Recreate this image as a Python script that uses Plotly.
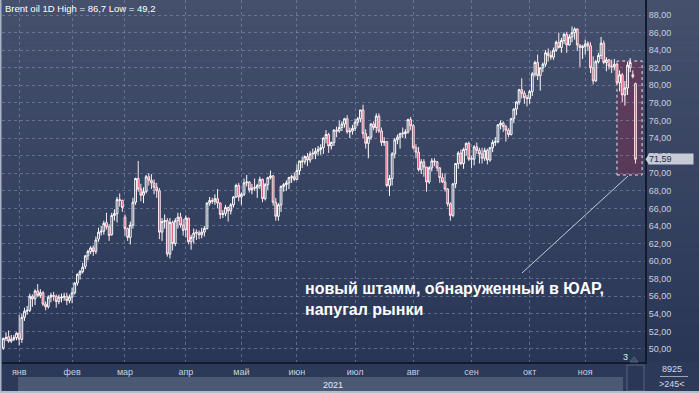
import plotly.graph_objects as go
import pandas as pd

# ---------------- data ----------------
holidays = ["2020-12-25", "2021-01-01", "2021-04-02"]
dates = [d.strftime("%Y-%m-%d") for d in pd.bdate_range("2020-12-23", "2021-11-26")
         if d.strftime("%Y-%m-%d") not in holidays]

month_labels = ["янв", "фев", "мар", "апр", "май", "июн", "июл", "авг", "сен", "окт", "ноя"]

open_ = [
    50.1, 51.2, 51.4, 50.9, 51.1, 51.3,
    51.8, 51.1, 53.6, 54.3, 54.4, 56.0, 55.7, 56.6, 56.1, 56.4, 55.1, 54.8, 55.9, 56.1, 56.0, 55.4, 55.8, 55.9, 56.0, 55.5,
    55.9, 56.4, 57.5, 58.5, 58.8, 59.4, 60.6, 61.1, 61.5, 61.1, 62.5, 63.3, 63.4, 64.4, 63.9, 63.0, 65.2, 65.4, 67.0, 66.9,
    65.0, 63.7, 62.7, 64.1, 66.7, 69.4, 68.2, 67.5, 67.9, 69.6, 69.2, 68.9, 68.4, 68.0, 63.3, 64.5, 64.6, 60.8, 64.4, 62.0, 64.6, 65.0, 64.1,
    63.6, 64.9, 62.2, 62.7, 63.3, 63.2, 63.0, 63.3, 63.7, 66.6, 66.9, 66.8, 67.1, 66.6, 65.3, 65.4, 66.1, 65.7, 66.4, 67.3, 68.6,
    67.3, 67.6, 68.9, 69.0, 68.1, 68.4, 68.3, 68.6, 69.3, 67.1, 68.7, 69.5, 69.7, 66.7, 65.1, 66.4, 68.5, 68.7, 68.9, 69.5, 69.6,
    69.3, 70.3, 71.4, 71.3, 71.9, 71.5, 72.3, 72.2, 72.5, 72.7, 72.9, 74.0, 74.4, 73.1, 73.5, 74.9, 74.8, 75.2, 75.6, 76.2, 74.7, 74.8,
    75.1, 75.8, 76.2, 77.2, 74.5, 73.4, 74.1, 75.6, 75.2, 76.5, 74.8, 73.5, 73.6, 68.6, 69.4, 72.2, 73.8, 74.1, 74.6, 74.5, 74.7, 76.1,
    75.4, 72.9, 72.4, 70.4, 71.3, 70.7, 69.0, 70.6, 71.4, 71.3, 70.6, 69.5, 69.0, 68.2, 66.5, 65.2, 68.8, 71.1, 72.3, 71.1, 72.7, 73.4,
    71.7, 71.6, 73.0, 72.6, 72.2, 71.7, 72.6, 71.5, 72.9, 73.5, 73.6, 75.5, 75.7, 75.3, 74.9, 74.4, 76.2, 77.3, 78.1, 79.5, 79.1, 78.6,
    78.5, 79.3, 81.3, 82.6, 81.1, 82.0, 82.4, 83.7, 83.4, 83.2, 84.0, 84.9, 84.3, 85.1, 85.8, 84.6, 85.5, 86.0, 86.4, 84.6, 84.3,
    84.4, 84.8, 84.5, 82.0, 80.5, 82.7, 83.4, 84.8, 82.6, 82.9, 82.2, 82.1, 82.4, 80.3, 81.2, 78.9, 79.7, 82.0, 81.2, 80.2,
]
high = [
    51.3, 51.9, 52.1, 51.6, 51.6, 51.9,
    53.9, 54.0, 54.7, 54.9, 56.3, 56.2, 56.8, 57.4, 56.8, 56.6, 55.4, 56.1, 56.4, 56.5, 56.2, 56.2, 56.3, 56.4, 56.4, 56.2,
    57.0, 57.6, 58.6, 59.0, 59.8, 60.7, 61.3, 61.7, 61.8, 62.8, 63.8, 64.0, 64.6, 65.5, 64.2, 65.5, 65.9, 67.3, 67.7, 67.0,
    65.3, 63.8, 64.5, 67.2, 69.5, 71.4, 68.8, 68.4, 69.8, 70.0, 69.9, 69.3, 68.9, 68.3, 64.9, 65.3, 64.9, 64.9, 64.6, 64.9, 65.5, 65.5, 64.8,
    65.2, 64.9, 63.0, 63.7, 63.6, 63.5, 63.8, 64.0, 66.7, 67.3, 67.2, 67.6, 68.2, 66.7, 65.8, 66.4, 66.2, 66.6, 67.4, 68.8, 68.9,
    67.8, 69.4, 69.8, 69.1, 68.8, 69.4, 68.8, 69.6, 69.4, 68.9, 69.6, 70.3, 69.8, 67.2, 66.6, 68.6, 68.9, 69.2, 69.6, 69.8, 70.1,
    71.0, 71.4, 71.9, 72.0, 72.3, 72.5, 72.8, 72.9, 73.1, 73.3, 74.1, 74.9, 74.6, 73.6, 75.0, 75.3, 76.0, 75.9, 76.3, 76.6, 75.2, 75.5,
    76.2, 76.4, 77.2, 77.8, 75.0, 74.2, 75.7, 75.9, 76.8, 76.8, 75.2, 74.1, 73.6, 69.8, 72.4, 74.0, 74.4, 74.6, 75.2, 75.0, 76.2, 76.4,
    75.6, 73.3, 73.0, 71.6, 71.6, 70.7, 70.8, 71.7, 71.7, 71.4, 70.7, 70.0, 70.0, 68.3, 66.7, 68.8, 71.1, 72.5, 72.7, 72.9, 73.5, 73.6,
    72.0, 73.2, 73.5, 72.9, 72.9, 72.9, 72.8, 73.0, 73.8, 74.1, 75.6, 76.0, 75.9, 75.5, 75.1, 76.3, 77.4, 78.2, 79.6, 80.8, 79.4, 78.9,
    79.5, 81.5, 82.8, 83.5, 82.0, 82.6, 84.0, 84.2, 83.9, 84.3, 85.1, 86.0, 85.4, 86.0, 86.1, 85.8, 86.7, 86.6, 86.5, 84.6, 84.6,
    85.2, 85.0, 84.9, 83.3, 82.9, 83.7, 85.5, 85.1, 83.2, 83.0, 82.9, 83.0, 82.6, 81.7, 81.4, 80.5, 82.7, 83.1, 81.7, 80.3,
]
low = [
    49.9, 50.9, 50.7, 50.7, 50.9, 51.0,
    50.4, 50.7, 53.2, 53.9, 54.2, 54.8, 55.0, 55.9, 55.8, 54.9, 54.4, 54.6, 55.3, 55.5, 54.7, 55.1, 55.3, 55.5, 55.0, 55.2,
    55.2, 56.2, 57.2, 57.9, 58.6, 59.1, 60.1, 60.8, 60.6, 60.8, 62.2, 62.9, 63.0, 63.6, 62.3, 62.9, 64.6, 64.4, 66.2, 65.6,
    62.9, 62.3, 61.9, 63.7, 66.4, 67.9, 66.8, 66.6, 67.7, 68.6, 68.2, 67.6, 67.2, 62.5, 62.3, 63.7, 60.5, 60.3, 61.2, 61.7, 63.7, 63.8, 62.9,
    62.7, 61.9, 61.3, 62.0, 62.4, 62.5, 62.6, 62.8, 63.6, 66.3, 66.5, 66.4, 66.0, 64.8, 64.9, 65.1, 64.5, 65.3, 66.1, 67.2, 66.8,
    66.4, 67.4, 68.5, 67.8, 67.6, 68.0, 67.2, 68.2, 66.7, 66.9, 68.1, 69.3, 66.3, 64.6, 64.6, 65.6, 67.9, 68.0, 68.2, 68.9, 69.1,
    69.2, 69.8, 70.6, 71.0, 70.8, 71.2, 71.6, 71.6, 72.0, 72.1, 72.2, 73.4, 72.3, 72.7, 73.1, 74.1, 74.6, 74.8, 75.2, 74.5, 74.0, 74.4,
    74.8, 75.4, 75.8, 74.0, 72.8, 71.7, 73.8, 74.9, 74.6, 74.6, 73.1, 73.1, 68.4, 67.4, 68.6, 71.7, 73.3, 72.8, 74.0, 74.0, 74.5, 74.9,
    72.7, 71.7, 70.2, 69.9, 69.6, 67.9, 68.8, 70.2, 70.8, 70.2, 68.9, 68.9, 67.9, 66.2, 64.6, 65.0, 68.3, 70.5, 70.9, 70.5, 72.0, 71.4,
    70.6, 70.9, 72.2, 71.1, 71.1, 71.4, 71.0, 71.3, 72.4, 73.1, 73.4, 75.0, 74.7, 73.6, 74.1, 74.3, 75.7, 76.6, 77.8, 78.5, 77.9, 77.6,
    77.9, 78.8, 81.0, 80.6, 79.4, 81.5, 82.1, 82.7, 82.9, 82.9, 83.8, 84.2, 83.7, 84.7, 83.7, 84.5, 84.9, 85.2, 83.9, 82.1, 83.0,
    83.5, 83.9, 81.4, 80.1, 80.4, 82.5, 83.0, 82.4, 81.6, 81.8, 81.4, 81.7, 80.1, 79.3, 78.1, 77.7, 78.9, 81.5, 80.8, 71.1,
]
close = [
    51.2, 51.3, 50.9, 51.1, 51.3, 51.8,
    51.1, 53.6, 54.3, 54.4, 56.0, 55.7, 56.6, 56.1, 56.4, 55.1, 54.8, 55.9, 56.1, 56.0, 55.4, 55.9, 55.9, 56.0, 55.5, 55.9,
    56.4, 57.5, 58.5, 58.8, 59.3, 60.6, 61.1, 61.5, 61.1, 62.4, 63.3, 63.4, 64.3, 63.9, 62.9, 65.2, 65.4, 67.0, 66.9, 66.1,
    63.7, 62.7, 64.1, 66.7, 69.4, 68.2, 67.5, 67.9, 69.6, 69.2, 68.9, 68.4, 68.0, 63.3, 64.5, 64.6, 60.8, 64.4, 62.0, 64.6, 65.0, 64.1, 63.5,
    64.9, 62.2, 62.7, 63.2, 63.2, 63.0, 63.3, 63.7, 66.6, 66.9, 66.8, 67.1, 66.6, 65.3, 65.4, 66.1, 65.7, 66.4, 67.3, 68.6, 67.3,
    67.6, 68.9, 69.0, 68.1, 68.3, 68.3, 68.6, 69.3, 67.1, 68.7, 69.5, 69.7, 66.7, 65.1, 66.4, 68.5, 68.7, 68.9, 69.5, 69.6, 69.3,
    70.3, 71.4, 71.3, 71.9, 71.5, 72.2, 72.2, 72.5, 72.7, 72.9, 74.0, 74.4, 73.1, 73.5, 74.9, 74.8, 75.2, 75.6, 76.2, 74.7, 74.8, 75.1,
    75.8, 76.2, 77.2, 74.5, 73.4, 74.1, 75.6, 75.2, 76.5, 74.8, 73.5, 73.6, 68.6, 69.4, 72.2, 73.8, 74.1, 74.5, 74.5, 74.7, 76.1, 75.4,
    72.9, 72.4, 70.4, 71.3, 70.7, 69.0, 70.6, 71.4, 71.3, 70.6, 69.5, 69.0, 68.2, 66.5, 65.2, 68.8, 71.1, 72.3, 71.1, 72.7, 73.4, 71.6,
    71.6, 73.0, 72.6, 72.2, 71.7, 72.6, 71.5, 72.9, 73.5, 73.6, 75.5, 75.7, 75.3, 74.9, 74.4, 76.2, 77.3, 78.1, 79.5, 79.1, 78.6, 78.5,
    79.3, 81.3, 82.6, 81.1, 82.0, 82.4, 83.7, 83.4, 83.2, 84.0, 84.9, 84.3, 85.1, 85.8, 84.6, 85.5, 86.0, 86.4, 84.6, 84.3, 84.4,
    84.7, 84.5, 82.0, 80.5, 82.7, 83.4, 84.8, 82.6, 82.9, 82.2, 82.1, 82.4, 80.3, 81.2, 78.9, 79.7, 82.3, 82.6, 81.0, 71.59,
]

last_price = 71.59
title_text = "Brent oil 1D High = 86,7 Low = 49,2"
note_text = "новый штамм, обнаруженный в ЮАР,<br>напугал рынки"

# --------------- geometry helpers (pixels -> paper) ---------------
W, H = 699, 393
ML, MR, MT, MB = 2, 54, 0, 31
PW, PH = W - ML - MR, H - MT - MB


def px(x):
    return (x - ML) / PW


def py(y):
    return (H - MB - y) / PH


month_ticks = []
for i, d in enumerate(dates):
    if i > 0 and d[5:7] != dates[i - 1][5:7]:
        month_ticks.append(d)

FONT = "Liberation Sans, Arial, sans-serif"
fig = go.Figure()

fig.add_trace(go.Candlestick(
    x=dates, open=open_, high=high, low=low, close=close,
    increasing=dict(line=dict(color="#ffffff", width=1), fillcolor="rgba(0,0,0,0)"),
    decreasing=dict(line=dict(color="#ffe6ec", width=1), fillcolor="#d8405f"),
    whiskerwidth=0, hoverinfo="skip", showlegend=False,
))

shapes = []
# background gradient bands
nb = 40
top_c = (68, 80, 108)
bot_c = (41, 54, 86)
for k in range(nb):
    t = k / (nb - 1)
    c = tuple(int(round(top_c[j] + (bot_c[j] - top_c[j]) * t)) for j in range(3))
    y0 = 362 * k / nb
    y1 = 362 * (k + 1) / nb + 0.5
    shapes.append(dict(type="rect", xref="paper", yref="paper", x0=px(0), x1=px(699),
                       y0=py(y1), y1=py(y0), fillcolor="rgb(%d,%d,%d)" % c,
                       line=dict(width=0), layer="below"))
# bottom strips
shapes.append(dict(type="rect", xref="paper", yref="paper", x0=px(0), x1=px(645),
                   y0=py(377), y1=py(362), fillcolor="#2c3959", line=dict(width=0), layer="below"))
shapes.append(dict(type="rect", xref="paper", yref="paper", x0=px(0), x1=px(645),
                   y0=py(393), y1=py(377), fillcolor="#2c3959", line=dict(width=0), layer="below"))
shapes.append(dict(type="rect", xref="paper", yref="paper", x0=px(18), x1=px(623),
                   y0=py(391), y1=py(377), fillcolor="#4c5975", line=dict(width=0), layer="below"))
shapes.append(dict(type="rect", xref="paper", yref="paper", x0=px(645), x1=px(699),
                   y0=py(393), y1=py(362), fillcolor="#2c3959", line=dict(width=0), layer="below"))
# scroll thumb
shapes.append(dict(type="rect", xref="paper", yref="paper", x0=px(627), x1=px(644),
                   y0=py(391), y1=py(365), fillcolor="#2b3757", line=dict(color="#56627e", width=1)))
shapes.append(dict(type="path", xref="paper", yref="paper",
                   path="M %f,%f L %f,%f L %f,%f Z" % (px(630), py(362), px(634), py(357), px(638), py(362)),
                   fillcolor="#3d4a68", line=dict(color="#56627e", width=1)))
# borders
shapes.append(dict(type="rect", xref="paper", yref="paper", x0=px(0), x1=px(1.5),
                   y0=py(393), y1=py(0), fillcolor="#a9b3c5", line=dict(width=0)))
shapes.append(dict(type="rect", xref="paper", yref="paper", x0=px(0), x1=px(699),
                   y0=py(393), y1=py(391), fillcolor="#b3bccb", line=dict(width=0)))
shapes.append(dict(type="line", xref="paper", yref="paper", x0=px(660), x1=px(688),
                   y0=py(376.5), y1=py(376.5), line=dict(color="#9aa4b8", width=1)))
# highlight box of the last days
shapes.append(dict(type="rect", xref="x", yref="y", x0=232.0, x1=241.5, y0=69.8, y1=82.77,
                   fillcolor="rgba(130,45,80,0.45)", line=dict(color="#e8e8f0", width=1, dash="dot"),
                   layer="below"))
# leader line
shapes.append(dict(type="line", xref="paper", yref="paper", x0=px(522), y0=py(273), x1=px(628), y1=py(176),
                   line=dict(color="#c3cad8", width=1)))
# price tag arrow
shapes.append(dict(type="path", xref="paper", yref="y",
                   path="M %f,%f L %f,%f L %f,%f Z" % (px(645.5), last_price, px(649), last_price + 0.6,
                                                         px(649), last_price - 0.6),
                   fillcolor="#c5ccd8", line=dict(width=0)))

annotations = [
    dict(text=title_text, xref="paper", yref="paper", x=px(3), y=py(8), xanchor="left", yanchor="middle",
         showarrow=False, font=dict(family=FONT, size=9.5, color="#ffffff")),
    dict(text="<b>" + note_text + "</b>", xref="paper", yref="paper", x=px(304), y=py(279),
         xanchor="left", yanchor="top", align="left", showarrow=False, borderpad=0,
         font=dict(family=FONT, size=16, color="#ffffff")),
    dict(text="71,59", xref="paper", yref="y", x=px(648), y=last_price, xanchor="left", yanchor="middle",
         showarrow=False, bgcolor="#c5ccd8", width=44, height=10, align="left", borderpad=0,
         font=dict(family=FONT, size=9, color="#1f2b45")),
    dict(text="2021", xref="paper", yref="paper", x=px(333), y=py(385), xanchor="center", yanchor="middle",
         showarrow=False, font=dict(family=FONT, size=9, color="#e6eaf2")),
    dict(text="3", xref="paper", yref="paper", x=px(625), y=py(357), xanchor="center", yanchor="middle",
         showarrow=False, font=dict(family=FONT, size=9, color="#e6eaf2")),
    dict(text="8925", xref="paper", yref="paper", x=px(672), y=py(369), xanchor="center", yanchor="middle",
         showarrow=False, font=dict(family=FONT, size=9, color="#d6dbe6")),
    dict(text="&gt;245&lt;", xref="paper", yref="paper", x=px(672), y=py(384), xanchor="center", yanchor="middle",
         showarrow=False, font=dict(family=FONT, size=9, color="#d6dbe6")),
]

grid_c = "rgba(140,155,190,0.5)"
fig.update_layout(
    width=W, height=H,
    margin=dict(l=ML, r=MR, t=MT, b=MB, pad=0),
    paper_bgcolor="#2c3959", plot_bgcolor="rgba(0,0,0,0)",
    separators=", ",
    boxgap=0.05,
    shapes=shapes, annotations=annotations,
    showlegend=False,
    xaxis=dict(type="category", range=[-0.5, 242.6], rangeslider=dict(visible=False),
               tickmode="array", tickvals=month_ticks, ticktext=month_labels,
               showgrid=True, gridcolor=grid_c, griddash="3px,3px", gridwidth=1,
               ticks="", showline=True, linecolor="#121a2c", linewidth=2,
               tickfont=dict(family=FONT, size=9, color="#c9d0df"), zeroline=False, fixedrange=True),
    yaxis=dict(side="right", range=[48.52, 89.71], tickmode="linear", tick0=0, dtick=2,
               tickformat=".2f", showgrid=True, gridcolor=grid_c, griddash="3px,3px", gridwidth=1,
               ticks="", showline=True, linecolor="#121a2c", linewidth=2,
               tickfont=dict(family=FONT, size=9, color="#c9d0df"), zeroline=False, fixedrange=True),
)

fig.write_html("out.html", config={"displayModeBar": False},
               post_script="document.body.style.margin='0';document.body.style.overflow='hidden';")
